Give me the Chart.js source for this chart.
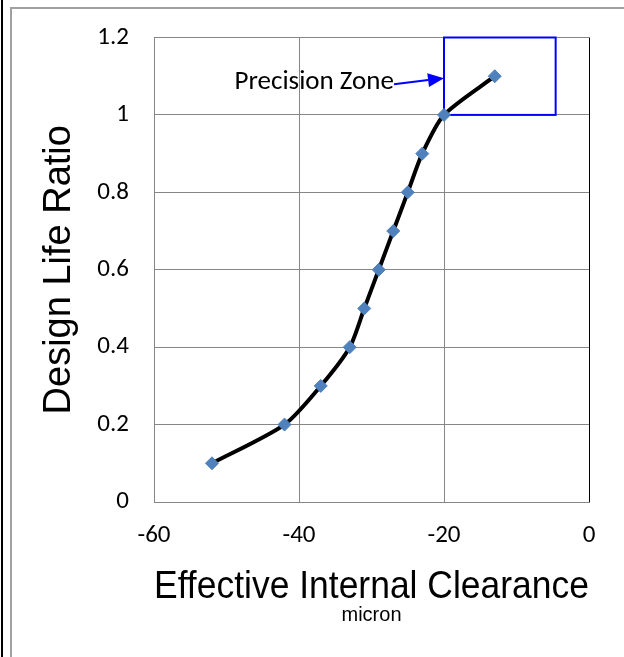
<!DOCTYPE html>
<html>
<head>
<meta charset="utf-8">
<script src="https://cdn.jsdelivr.net/npm/chart.js@4.4.1/dist/chart.umd.min.js"></script>
<style>
  body { margin: 0; background: #fff; }
  canvas { display: block; }
</style>
</head>
<body>
<canvas id="lifeChart" width="624" height="657"></canvas>
<script>
// Effective internal clearance (micron) vs design life ratio
const clearance = [-52, -42, -37, -33, -31, -29, -27, -25, -23, -20, -13];
const lifeRatio = [0.1, 0.2, 0.3, 0.4, 0.5, 0.6, 0.7, 0.8, 0.9, 1.0, 1.1];

const xTicks = [-60, -40, -20, 0];
const yTicks = [0, 0.2, 0.4, 0.6, 0.8, 1, 1.2];

// "Precision Zone" box, arrow and label, in chart values
const zoneX = [-20, -4.6];
const zoneY = [1.0, 1.2];
const zoneLabel = 'Precision Zone';
const arrowFrom = [-26.9, 1.079];
const arrowTo = [-20, 1.095];
const labelAt = [-26.9, 1.084];

const GRID = '#868686';

// рамка вокруг картинки
const framePlugin = {
  id: 'frame',
  beforeDraw(chart) {
    const ctx = chart.ctx;
    ctx.save();
    ctx.fillStyle = '#fff';
    ctx.fillRect(0, 0, chart.width, chart.height);
    ctx.fillStyle = '#000';
    ctx.fillRect(1, 0, 2, chart.height);
    ctx.fillStyle = '#a0a0a0';
    ctx.fillRect(10, 7, 2, chart.height - 7);
    ctx.fillRect(10, 7, chart.width - 10, 2);
    ctx.restore();
  }
};

const zonePlugin = {
  id: 'zone',
  beforeDatasetsDraw(chart) {
    const { ctx, scales: { x, y } } = chart;
    const l = x.getPixelForValue(zoneX[0]), r = x.getPixelForValue(zoneX[1]);
    const t = y.getPixelForValue(zoneY[1]), b = y.getPixelForValue(zoneY[0]);
    ctx.save();
    ctx.strokeStyle = '#0000ff';
    ctx.fillStyle = '#0000ff';
    ctx.lineWidth = 2;
    ctx.strokeRect(l, t, r - l, b - t);

    // стрелка
    const x0 = x.getPixelForValue(arrowFrom[0]), y0 = y.getPixelForValue(arrowFrom[1]);
    const x1 = x.getPixelForValue(arrowTo[0]), y1 = y.getPixelForValue(arrowTo[1]);
    const ang = Math.atan2(y1 - y0, x1 - x0);
    const head = 16, half = 7;
    const bx = x1 - head * Math.cos(ang), by = y1 - head * Math.sin(ang);
    ctx.beginPath();
    ctx.moveTo(x0, y0);
    ctx.lineTo(bx, by);
    ctx.stroke();
    ctx.beginPath();
    ctx.moveTo(x1, y1);
    ctx.lineTo(bx + half * Math.sin(ang), by - half * Math.cos(ang));
    ctx.lineTo(bx - half * Math.sin(ang), by + half * Math.cos(ang));
    ctx.closePath();
    ctx.fill();

    ctx.fillStyle = '#000';
    ctx.font = '27px Carlito, Lato, sans-serif';
    ctx.textAlign = 'right';
    ctx.textBaseline = 'middle';
    ctx.fillText(zoneLabel, x.getPixelForValue(labelAt[0]), y.getPixelForValue(labelAt[1]));
    ctx.restore();
  }
};

const tickFont = { family: 'Carlito, Lato, sans-serif', size: 25, lineHeight: 1 };
const titleFont = { family: 'Liberation Sans, Arial, sans-serif', size: 39, lineHeight: 1 };
const fmt = v => String(+Number(v).toFixed(2));

new Chart(document.getElementById('lifeChart'), {
  type: 'line',
  data: {
    datasets: [{
      data: clearance.map((v, i) => ({ x: v, y: lifeRatio[i] })),
      borderColor: '#000',
      borderWidth: 4,
      tension: 0.25,
      pointStyle: 'rectRot',
      pointRadius: 6.5,
      pointBackgroundColor: '#4f81bd',
      pointBorderColor: '#4f81bd',
      pointBorderWidth: 1
    }]
  },
  options: {
    responsive: false,
    animation: false,
    layout: { padding: { left: 0, right: 35, top: 37, bottom: 32 } },
    plugins: {
      legend: { display: false },
      tooltip: { enabled: false },
      title: {
        display: true,
        position: 'bottom',
        fullSize: false,
        text: 'micron',
        color: '#000',
        font: { family: 'Liberation Sans, Arial, sans-serif', size: 20, weight: 'normal', lineHeight: 1 },
        padding: { top: 0, bottom: 0 }
      }
    },
    scales: {
      x: {
        type: 'linear',
        min: -60,
        max: 0,
        afterBuildTicks: s => { s.ticks = xTicks.map(v => ({ value: v })); },
        afterFit: s => { s.height = 103; },
        grid: {
          color: c => (c.tick && c.tick.value === 0 ? '#000' : GRID),
          lineWidth: 1,
          drawTicks: false
        },
        border: { color: GRID, width: 1 },
        ticks: { padding: 21, color: '#000', font: tickFont, maxRotation: 0, callback: fmt },
        title: { display: true, text: 'Effective Internal Clearance', color: '#000', font: titleFont, padding: { top: 0, bottom: -2 } }
      },
      y: {
        type: 'linear',
        min: 0,
        max: 1.2,
        afterBuildTicks: s => { s.ticks = yTicks.map(v => ({ value: v })); },
        afterFit: s => { s.width = 154; },
        grid: { color: GRID, lineWidth: 1, drawTicks: false },
        border: { color: GRID, width: 1 },
        ticks: { padding: 25, color: '#000', font: tickFont, callback: fmt },
        title: { display: true, text: 'Design Life Ratio', color: '#000', font: { family: 'Liberation Sans, Arial, sans-serif', size: 38, lineHeight: 1 }, padding: { top: 41, bottom: 0 } }
      }
    }
  },
  plugins: [framePlugin, zonePlugin]
});
</script>
</body>
</html>
